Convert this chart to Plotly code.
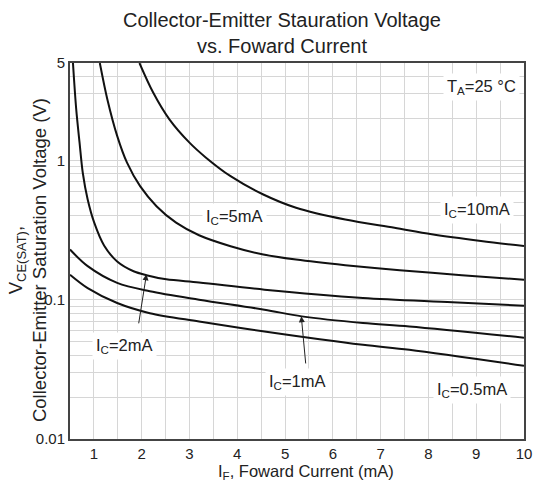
import math
import plotly.graph_objects as go

# ---- data ----
x_10mA = [1.953, 2.24, 2.58, 3.0, 3.34, 3.86, 4.545, 5.23, 6.26, 7.29, 8.07, 9.1, 10.0]
y_10mA = [5.0, 3.07, 1.97, 1.34, 1.05, 0.77, 0.569, 0.457, 0.376, 0.328, 0.295, 0.264, 0.243]

x_5mA = [1.124, 1.281, 1.487, 1.693, 1.967, 2.31, 2.72, 3.2, 3.86, 4.545, 5.23, 6.26, 7.4, 8.7, 10.0]
y_5mA = [5.0, 2.75, 1.50, 0.963, 0.653, 0.469, 0.357, 0.29, 0.242, 0.211, 0.194, 0.177, 0.163, 0.15, 0.139]

x_2mA = [0.562, 0.63, 0.70, 0.767, 0.87, 1.007, 1.213, 1.487, 1.83, 2.1, 2.515, 3.2, 4.57, 6.63, 8.5, 10.0]
y_2mA = [5.0, 2.33, 1.34, 0.815, 0.524, 0.357, 0.245, 0.188, 0.16, 0.15, 0.14, 0.133, 0.118, 0.103, 0.096, 0.0905]

x_1mA = [0.5, 0.87, 1.487, 2.17, 3.2, 4.57, 5.35, 6.63, 7.6, 10.0]
y_1mA = [0.229, 0.174, 0.132, 0.115, 0.10, 0.0847, 0.0759, 0.068, 0.0643, 0.0534]

x_05mA = [0.5, 0.87, 1.487, 2.17, 3.2, 4.57, 6.63, 7.6, 10.0]
y_05mA = [0.151, 0.121, 0.0946, 0.080, 0.0698, 0.0591, 0.0474, 0.0437, 0.0335]

x_ticks = [1, 2, 3, 4, 5, 6, 7, 8, 9, 10]
x_minor = [0.5, 1.5, 2.5, 3.5, 4.5, 5.5, 6.5, 7.5, 8.5, 9.5]
y_ticks = [0.01, 0.1, 1, 5]
y_tick_text = ["0.01", "0.1", "1", "5"]
y_minor = [0.02, 0.03, 0.04, 0.05, 0.06, 0.07, 0.08, 0.09,
           0.2, 0.3, 0.4, 0.5, 0.6, 0.7, 0.8, 0.9, 2, 3, 4]

title_lines = ["Collector-Emitter Stauration Voltage", "vs. Foward Current"]

series = [
    ("I_C=10mA", x_10mA, y_10mA),
    ("I_C=5mA", x_5mA, y_5mA),
    ("I_C=2mA", x_2mA, y_2mA),
    ("I_C=1mA", x_1mA, y_1mA),
    ("I_C=0.5mA", x_05mA, y_05mA),
]

FONT = "Liberation Sans, Arial, sans-serif"
TXT = "#222222"
fig = go.Figure()
for name, xs, ys in series:
    fig.add_trace(go.Scatter(x=xs, y=ys, mode="lines", name=name,
                             line=dict(color="#111111", width=2, shape="spline", smoothing=0.9),
                             showlegend=False, hoverinfo="skip"))

grid_c = "#d6d6d6"
fig.update_layout(
    width=539, height=487,
    margin=dict(l=70, r=7, t=63, b=48),
    paper_bgcolor="white", plot_bgcolor="white",
    font=dict(family=FONT, color=TXT, size=15),
    xaxis=dict(range=[0.5, 10], tickvals=x_ticks, ticktext=[str(v) for v in x_ticks],
               showgrid=True, gridcolor=grid_c, gridwidth=1,
               minor=dict(tickvals=x_minor, showgrid=True, gridcolor=grid_c, ticks=""),
               showline=True, linecolor="#444444", linewidth=2, mirror=True,
               ticks="", zeroline=False, tickfont=dict(size=15)),
    yaxis=dict(type="log", range=[-2, math.log10(5)], tickvals=y_ticks, ticktext=y_tick_text,
               showgrid=True, gridcolor=grid_c, gridwidth=1,
               minor=dict(tickvals=y_minor, showgrid=True, gridcolor=grid_c, ticks=""),
               showline=True, linecolor="#444444", linewidth=2, mirror=True,
               ticks="", zeroline=False, tickfont=dict(size=15)),
)

# title (two lines)
for txt, shift in zip(title_lines, [43, 17]):
    fig.add_annotation(xref="paper", yref="paper", x=0.4675, y=1, yshift=shift,
                       xanchor="center", yanchor="middle", showarrow=False, text=txt,
                       font=dict(size=20, family=FONT, color=TXT))

# axis titles
fig.add_annotation(xref="paper", yref="paper", x=0.519, y=0, yshift=-33,
                   xanchor="center", yanchor="middle", showarrow=False,
                   text="I<sub>F</sub>, Foward Current (mA)",
                   font=dict(size=16.5, family=FONT, color=TXT))
fig.add_annotation(xref="paper", yref="paper", x=0, xshift=-43, y=0.476,
                   xanchor="center", yanchor="middle", showarrow=False, textangle=-90,
                   text="V<sub>CE(SAT)</sub>,<br>Collector-Emitter Saturation Voltage (V)",
                   font=dict(size=18.5, family=FONT, color=TXT))

def lab(text, x, y):
    fig.add_annotation(x=x, y=math.log10(y), xref="x", yref="y", text=text, showarrow=False,
                       font=dict(size=16.5, family=FONT, color=TXT),
                       bgcolor="white", borderpad=3)

lab("I<sub>C</sub>=10mA", 9.01, 0.443)
lab("I<sub>C</sub>=5mA", 3.95, 0.395)
lab("I<sub>C</sub>=2mA", 1.65, 0.0467)
lab("I<sub>C</sub>=1mA", 5.25, 0.0257)
lab("I<sub>C</sub>=0.5mA", 8.91, 0.0223)
lab("T<sub>A</sub>=25 °C", 9.12, 3.38)

def arrow(x, y, ax, ay):
    fig.add_annotation(x=x, y=math.log10(y), ax=ax, ay=math.log10(ay), xref="x", yref="y",
                       axref="x", ayref="y", text="", showarrow=True,
                       arrowhead=2, arrowsize=1.2, arrowwidth=1, arrowcolor=TXT)

arrow(2.10, 0.152, 1.933, 0.066)
arrow(5.34, 0.0759, 5.435, 0.034)

fig.write_html("out.html")
